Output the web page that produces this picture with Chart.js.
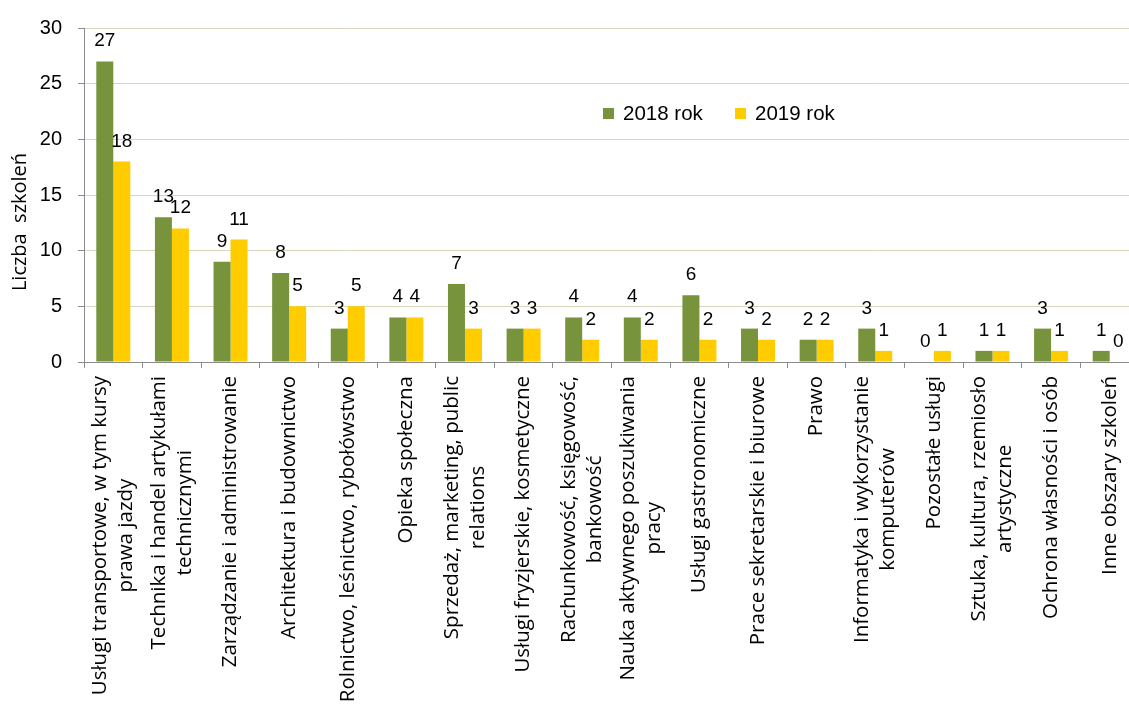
<!DOCTYPE html>
<html lang="pl">
<head>
<meta charset="utf-8">
<title>Liczba szkoleń</title>
<script src="https://cdn.jsdelivr.net/npm/chart.js@4.4.1/dist/chart.umd.min.js"></script>
<style>
  html, body { margin: 0; padding: 0; background: #fff; overflow: hidden; }
  #wrap { width: 1140px; height: 709px; position: relative; }
</style>
</head>
<body>
<div id="wrap"><canvas id="wykres" width="1140" height="709"></canvas></div>
<script>
// dane wykresu
const kategorie = [
    ['Usługi transportowe, w tym kursy', 'prawa jazdy'],
    ['Technika i handel artykułami', 'technicznymi'],
    'Zarządzanie i administrowanie',
    'Architektura i budownictwo',
    'Rolnictwo, leśnictwo, rybołówstwo',
    'Opieka społeczna',
    ['Sprzedaż, marketing, public', 'relations'],
    'Usługi fryzjerskie, kosmetyczne',
    ['Rachunkowość, księgowość,', 'bankowość'],
    ['Nauka aktywnego poszukiwania', 'pracy'],
    'Usługi gastronomiczne',
    'Prace sekretarskie i biurowe',
    'Prawo',
    ['Informatyka i wykorzystanie', 'komputerów'],
    'Pozostałe usługi',
    ['Sztuka, kultura, rzemiosło', 'artystyczne'],
    'Ochrona własności i osób',
    'Inne obszary szkoleń'
];
const serie = ['2018 rok', '2019 rok'];
const wartosci2018 = [27, 13, 9, 8, 3, 4, 7, 3, 4, 4, 6, 3, 2, 3, 0, 1, 3, 1];
const wartosci2019 = [18, 12, 11, 5, 5, 4, 3, 3, 2, 2, 2, 2, 2, 1, 1, 1, 1, 0];
const podzialkaY = [0, 5, 10, 15, 20, 25, 30];
const tytulOsiY = 'Liczba  szkoleń';

// ============================================================
//  STYLE
// ============================================================

const ZIELONY = '#77933C';
const ZOLTY = '#FFCC00';
const SIATKA = '#D9D5BE';
const OS = '#8C8C8C';
const FONT_LICZBY = "'Liberation Sans', Arial, sans-serif";
const FONT_TEKST = "'Open Sans', 'Noto Sans', sans-serif";

// etykiety wartości nad słupkami
const etykietyWartosci = {
    id: 'etykietyWartosci',
    afterDatasetsDraw(chart) {
        const ctx = chart.ctx;
        ctx.save();
        ctx.font = '19px ' + FONT_LICZBY;
        ctx.fillStyle = '#000';
        ctx.textAlign = 'center';
        ctx.textBaseline = 'alphabetic';
        chart.data.datasets.forEach((ds, i) => {
            chart.getDatasetMeta(i).data.forEach((bar, j) => {
                ctx.fillText(String(ds.data[j]), bar.x, bar.y - 15);
            });
        });
        ctx.restore();
    }
};

// pionowe etykiety kategorii, linie wyśrodkowane względem siebie
const etykietyKategorii = {
    id: 'etykietyKategorii',
    afterDraw(chart) {
        const ctx = chart.ctx;
        const x = chart.scales.x;
        const gora = chart.chartArea.bottom + 14;
        const wysLinii = 26;
        ctx.save();
        ctx.font = '20.5px ' + FONT_TEKST;
        ctx.fillStyle = '#000';
        ctx.textAlign = 'center';
        ctx.textBaseline = 'middle';
        kategorie.forEach((kat, i) => {
            const linie = Array.isArray(kat) ? kat : [kat];
            const szer = Math.max(...linie.map(l => ctx.measureText(l).width));
            const px = x.getPixelForValue(i);
            ctx.save();
            ctx.translate(px, gora + szer / 2);
            ctx.rotate(-Math.PI / 2);
            linie.forEach((l, k) => {
                ctx.fillText(l, 0, (k - (linie.length - 1) / 2) * wysLinii);
            });
            ctx.restore();
        });
        ctx.restore();
    }
};

// tytuł osi Y i legenda wewnątrz wykresu
const opisy = {
    id: 'opisy',
    afterDraw(chart) {
        const ctx = chart.ctx;
        ctx.save();
        ctx.fillStyle = '#000';
        ctx.font = '20px ' + FONT_TEKST;
        ctx.textAlign = 'center';
        ctx.textBaseline = 'middle';
        ctx.translate(20, 222);
        ctx.rotate(-Math.PI / 2);
        ctx.fillText(tytulOsiY, 0, 0);
        ctx.restore();

        ctx.save();
        ctx.font = '20.5px ' + FONT_LICZBY;
        ctx.textBaseline = 'middle';
        ctx.textAlign = 'left';
        const pozycje = [603, 735];
        chart.data.datasets.forEach((ds, i) => {
            ctx.fillStyle = ds.backgroundColor;
            ctx.fillRect(pozycje[i], 108, 11, 11);
            ctx.fillStyle = '#000';
            ctx.fillText(ds.label, pozycje[i] + 20, 114);
        });
        ctx.restore();
    }
};

new Chart(document.getElementById('wykres'), {
    type: 'bar',
    data: {
        labels: kategorie,
        datasets: [
            { label: serie[0], data: wartosci2018, backgroundColor: ZIELONY },
            { label: serie[1], data: wartosci2019, backgroundColor: ZOLTY }
        ]
    },
    options: {
        responsive: false,
        animation: false,
        devicePixelRatio: 1,
        layout: { padding: { top: 27, right: 1, left: 0, bottom: 0 } },
        datasets: {
            bar: { categoryPercentage: 0.58, barPercentage: 1 }
        },
        plugins: {
            legend: { display: false },
            tooltip: { enabled: false }
        },
        scales: {
            x: {
                ticks: { display: false },
                grid: {
                    offset: true,
                    drawOnChartArea: false,
                    drawTicks: true,
                    tickLength: 6,
                    tickColor: OS
                },
                border: { color: OS, width: 1 },
                afterFit(s) { s.height = 709 - 362; }
            },
            y: {
                min: podzialkaY[0],
                max: podzialkaY[podzialkaY.length - 1],
                ticks: {
                    stepSize: podzialkaY[1] - podzialkaY[0],
                    color: '#000',
                    padding: 16,
                    font: { family: FONT_LICZBY, size: 20 }
                },
                grid: {
                    color: SIATKA,
                    tickColor: OS,
                    tickLength: 6
                },
                border: { color: OS, width: 1 },
                afterFit(s) { s.width = 84; }
            }
        }
    },
    plugins: [etykietyWartosci, etykietyKategorii, opisy]
});
</script>
</body>
</html>
